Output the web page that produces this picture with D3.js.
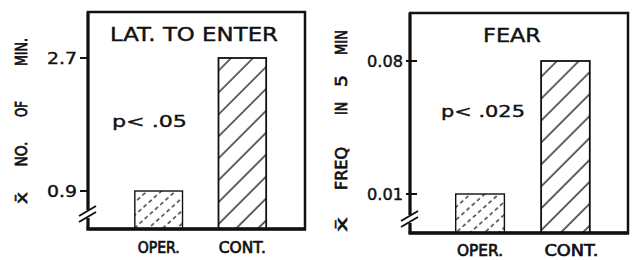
<!DOCTYPE html>
<html>
<head>
<meta charset="utf-8">
<script src="https://cdn.jsdelivr.net/npm/d3@7"></script>
<style>
body { margin: 0; background: #fff; }
svg { display: block; font-family: "DejaVu Sans", sans-serif; }
svg text { stroke: #111; stroke-width: 0.45; vector-effect: non-scaling-stroke; }
svg text.heavy { stroke-width: 0.7; }
</style>
</head>
<body>
<svg id="chart" width="633" height="260"></svg>
<script>

const groups = ['OPER.', 'CONT.'];

const latencyMeans = [0.9, 2.7];
const fearMeans = [0.01, 0.08];

const latencyTicks = [0.9, 2.7];
const latencyTickLabels = ['0.9', '2.7'];
const fearTicks = [0.01, 0.08];
const fearTickLabels = ['0.01', '0.08'];

const titles = ['LAT. TO ENTER', 'FEAR'];
const pValues = ['p< .05', 'p< .025'];

const latencyAxisWords = ['x\u0304', 'NO.', 'OF', 'MIN.'];
const fearAxisWords = ['x\u0304', 'FREQ', 'IN', '5', 'MIN'];

const ink = '#111';

const svg = d3.select('#chart');
const defs = svg.append('defs');

// solid hatch for the control bars
const solid = defs.append('pattern')
	.attr('id', 'hatchSolid')
	.attr('patternUnits', 'userSpaceOnUse')
	.attr('width', 15.5)
	.attr('height', 15.5)
	.attr('patternTransform', 'rotate(45)');
solid.append('line')
	.attr('x1', 3).attr('y1', 0).attr('x2', 3).attr('y2', 15.5)
	.attr('stroke', ink).attr('stroke-width', 1.3);

// dashed hatch for the operant bars
const dashed = defs.append('pattern')
	.attr('id', 'hatchDashed')
	.attr('patternUnits', 'userSpaceOnUse')
	.attr('width', 9.5)
	.attr('height', 14)
	.attr('patternTransform', 'rotate(48)');
dashed.append('line')
	.attr('x1', 3).attr('y1', 0).attr('x2', 3).attr('y2', 14)
	.attr('stroke', ink).attr('stroke-width', 1.2)
	.attr('stroke-dasharray', '4,3');

// put a text at (x, y), turned by rot, and stretch it along its run to a given length
const fitText = (g, str, x, y, size, width, anchor, rot, cls) => {
	const t = g.append('text')
		.attr('class', cls || null)
		.attr('font-size', size)
		.attr('text-anchor', anchor)
		.attr('fill', ink)
		.text(str);
	const natural = t.node().getComputedTextLength();
	const sx = width / natural;
	t.attr('transform', `translate(${x},${y}) rotate(${rot || 0}) scale(${sx},1)`);
	return t;
};

const drawPanel = (cfg) => {

	const [left, top, right, bottom] = cfg.box;
	const g = svg.append('g');

	const x = d3.scaleBand()
		.domain(groups)
		.range(cfg.xRange)
		.paddingInner(0.43)
		.paddingOuter(0.5);

	const y = d3.scaleLinear()
		.domain(d3.extent(cfg.ticks))
		.range(cfg.yRange);

	// bars
	g.selectAll('none')
		.data(cfg.values)
		.enter()
		.append('rect')
		.attr('x', (d, i) => x(groups[i]))
		.attr('width', x.bandwidth())
		.attr('y', d => y(d))
		.attr('height', d => bottom - y(d))
		.attr('fill', (d, i) => i == 0 ? 'url(#hatchDashed)' : 'url(#hatchSolid)')
		.attr('stroke', ink)
		.attr('stroke-width', (d, i) => i == 0 ? 1.4 : 1.8);

	// frame
	g.append('rect')
		.attr('x', left).attr('y', top)
		.attr('width', right - left).attr('height', bottom - top)
		.attr('fill', 'none')
		.attr('stroke', ink)
		.attr('stroke-width', 2.5);

	g.append('line')
		.attr('x1', left).attr('y1', top).attr('x2', left).attr('y2', bottom)
		.attr('stroke', ink).attr('stroke-width', 3);

	g.append('line')
		.attr('x1', left - 1.5).attr('y1', bottom).attr('x2', right + 1).attr('y2', bottom)
		.attr('stroke', ink).attr('stroke-width', 3.4);

	// ticks
	g.selectAll('none')
		.data(cfg.ticks)
		.enter()
		.append('line')
		.attr('x1', left - cfg.tickOuter)
		.attr('x2', left + cfg.tickInner)
		.attr('y1', d => y(d))
		.attr('y2', d => y(d))
		.attr('stroke', ink)
		.attr('stroke-width', 2);

	cfg.ticks.forEach((d, i) => {
		fitText(g, cfg.tickLabels[i], cfg.tickLabelX, y(d) + 6, 16, cfg.tickLabelW, 'end');
	});

	// axis break
	g.append('rect')
		.attr('x', left - 3).attr('y', cfg.breakY[0] - 1)
		.attr('width', 6).attr('height', cfg.breakY[1] - cfg.breakY[0] + 2)
		.attr('fill', '#fff');

	g.selectAll('none')
		.data(cfg.breakY)
		.enter()
		.append('line')
		.attr('x1', left - 9).attr('y1', d => d + 5)
		.attr('x2', left + 8).attr('y2', d => d - 5)
		.attr('stroke', ink)
		.attr('stroke-width', 2);

	// title and p value
	fitText(g, cfg.titleText, cfg.title.x, cfg.title.y, 19, cfg.title.w, 'start');
	fitText(g, cfg.pText, cfg.p.x, cfg.p.y, 16, cfg.p.w, 'start');

	// category labels
	groups.forEach((d, i) => {
		fitText(g, d, x(d) + x.bandwidth() / 2 + cfg.xLabel.dx[i], cfg.xLabel.y,
			cfg.xLabel.size, cfg.xLabel.w[i], 'middle', 0, 'heavy');
	});

	// rotated y label, one word at a time
	cfg.yWords.forEach((d, i) => {
		fitText(g, d, cfg.yLabel.x + cfg.yLabel.size * 0.36, cfg.yLabel.centers[i],
			cfg.yLabel.size, cfg.yLabel.widths[i], 'middle', -90, 'heavy');
	});
};

drawPanel({
	values: latencyMeans,
	ticks: latencyTicks,
	tickLabels: latencyTickLabels,
	titleText: titles[0],
	pText: pValues[0],
	yWords: latencyAxisWords,
	box: [88, 12, 305, 229],
	yRange: [191, 58],
	xRange: [93, 308],
	tickOuter: 8,
	tickInner: 0,
	tickLabelX: 77,
	tickLabelW: 30,
	breakY: [211, 217],
	title: { x: 110, y: 41, w: 168 },
	p: { x: 112, y: 127, w: 75 },
	xLabel: { y: 253, size: 15, w: [42, 47], dx: [0, 0] },
	yLabel: { x: 21, size: 16, centers: [198, 154, 109, 52], widths: [12, 25, 16, 28] }
});

drawPanel({
	values: fearMeans,
	ticks: fearTicks,
	tickLabels: fearTickLabels,
	titleText: titles[1],
	pText: pValues[1],
	yWords: fearAxisWords,
	box: [410, 13, 628, 233],
	yRange: [194, 61],
	xRange: [413, 632.5],
	tickOuter: 4,
	tickInner: 7,
	tickLabelX: 403,
	tickLabelW: 36,
	breakY: [216, 222],
	title: { x: 483, y: 42, w: 58 },
	p: { x: 441, y: 117, w: 84 },
	xLabel: { y: 256, size: 15, w: [46, 54], dx: [0, 6] },
	yLabel: { x: 341, size: 16, centers: [224.5, 168.5, 108.5, 81, 42.5], widths: [15, 43, 13, 12, 25] }
});

</script>
</body>
</html>
